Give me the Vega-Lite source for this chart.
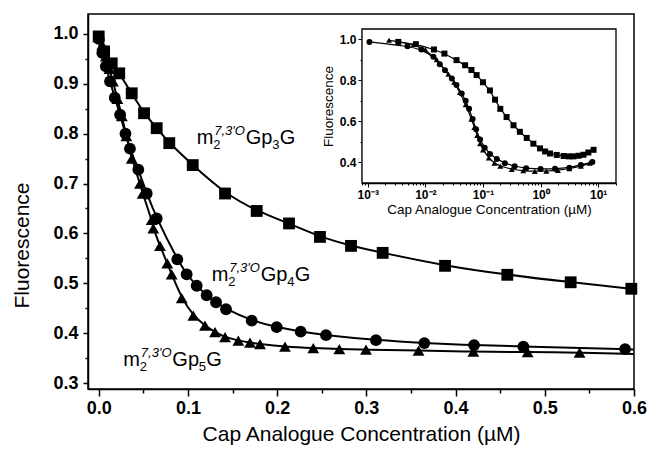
{
  "$schema": "https://vega.github.io/schema/vega-lite/v6.json",
  "width": 546,
  "height": 375,
  "autosize": {"type": "none"},
  "padding": {"left": 88, "top": 14, "right": 16, "bottom": 65},
  "background": "white",
  "config": {
    "font": "Liberation Sans",
    "view": {"stroke": "black", "strokeWidth": 1.5},
    "axis": {"grid": false, "domainColor": "black", "tickColor": "black", "labelColor": "black", "titleColor": "black", "labelFont": "Liberation Sans", "titleFont": "Liberation Sans", "labelOverlap": false, "labelFlush": false, "labelBound": false}
  },
  "datasets": {
    "main": [
      {"s": "sq", "k": "o", "x": 0.0, "y": 0.995},
      {"s": "sq", "k": "o", "x": 0.006, "y": 0.965},
      {"s": "sq", "k": "o", "x": 0.0146, "y": 0.941},
      {"s": "sq", "k": "o", "x": 0.023, "y": 0.921},
      {"s": "sq", "k": "o", "x": 0.037, "y": 0.881},
      {"s": "sq", "k": "o", "x": 0.0508, "y": 0.841},
      {"s": "sq", "k": "o", "x": 0.065, "y": 0.811},
      {"s": "sq", "k": "o", "x": 0.0791, "y": 0.781},
      {"s": "sq", "k": "o", "x": 0.1054, "y": 0.737},
      {"s": "sq", "k": "o", "x": 0.1416, "y": 0.68},
      {"s": "sq", "k": "o", "x": 0.1771, "y": 0.645},
      {"s": "sq", "k": "o", "x": 0.2133, "y": 0.62},
      {"s": "sq", "k": "o", "x": 0.248, "y": 0.593},
      {"s": "sq", "k": "o", "x": 0.2828, "y": 0.575},
      {"s": "sq", "k": "o", "x": 0.3183, "y": 0.561},
      {"s": "sq", "k": "o", "x": 0.3882, "y": 0.535},
      {"s": "sq", "k": "o", "x": 0.458, "y": 0.517},
      {"s": "sq", "k": "o", "x": 0.529, "y": 0.502},
      {"s": "sq", "k": "o", "x": 0.597, "y": 0.489},
      {"s": "sq", "k": "f", "x": 0.6, "y": 0.488},
      {"s": "ci", "k": "o", "x": 0.0, "y": 0.99},
      {"s": "ci", "k": "o", "x": 0.004, "y": 0.962},
      {"s": "ci", "k": "o", "x": 0.008, "y": 0.935},
      {"s": "ci", "k": "o", "x": 0.0127, "y": 0.905},
      {"s": "ci", "k": "o", "x": 0.018, "y": 0.872},
      {"s": "ci", "k": "o", "x": 0.024, "y": 0.838},
      {"s": "ci", "k": "o", "x": 0.03, "y": 0.8},
      {"s": "ci", "k": "o", "x": 0.035, "y": 0.77},
      {"s": "ci", "k": "o", "x": 0.0444, "y": 0.728},
      {"s": "ci", "k": "o", "x": 0.0538, "y": 0.68},
      {"s": "ci", "k": "o", "x": 0.065, "y": 0.63},
      {"s": "ci", "k": "o", "x": 0.0881, "y": 0.548},
      {"s": "ci", "k": "o", "x": 0.0986, "y": 0.518},
      {"s": "ci", "k": "o", "x": 0.1098, "y": 0.495},
      {"s": "ci", "k": "o", "x": 0.121, "y": 0.476},
      {"s": "ci", "k": "o", "x": 0.1315, "y": 0.462},
      {"s": "ci", "k": "o", "x": 0.1427, "y": 0.448},
      {"s": "ci", "k": "o", "x": 0.1715, "y": 0.425},
      {"s": "ci", "k": "o", "x": 0.1995, "y": 0.412},
      {"s": "ci", "k": "o", "x": 0.2264, "y": 0.403},
      {"s": "ci", "k": "o", "x": 0.2548, "y": 0.396},
      {"s": "ci", "k": "o", "x": 0.3108, "y": 0.386},
      {"s": "ci", "k": "o", "x": 0.365, "y": 0.38},
      {"s": "ci", "k": "o", "x": 0.4207, "y": 0.376},
      {"s": "ci", "k": "o", "x": 0.476, "y": 0.373},
      {"s": "ci", "k": "o", "x": 0.59, "y": 0.368},
      {"s": "ci", "k": "f", "x": 0.6, "y": 0.367},
      {"s": "tr", "k": "o", "x": 0.0, "y": 0.995},
      {"s": "tr", "k": "o", "x": 0.004, "y": 0.978},
      {"s": "tr", "k": "o", "x": 0.008, "y": 0.955},
      {"s": "tr", "k": "o", "x": 0.012, "y": 0.93},
      {"s": "tr", "k": "o", "x": 0.016, "y": 0.905},
      {"s": "tr", "k": "o", "x": 0.021, "y": 0.87},
      {"s": "tr", "k": "o", "x": 0.026, "y": 0.835},
      {"s": "tr", "k": "o", "x": 0.031, "y": 0.795},
      {"s": "tr", "k": "o", "x": 0.037, "y": 0.75},
      {"s": "tr", "k": "o", "x": 0.0463, "y": 0.7},
      {"s": "tr", "k": "o", "x": 0.0493, "y": 0.68},
      {"s": "tr", "k": "o", "x": 0.0594, "y": 0.627},
      {"s": "tr", "k": "o", "x": 0.0612, "y": 0.61},
      {"s": "tr", "k": "o", "x": 0.0687, "y": 0.575},
      {"s": "tr", "k": "o", "x": 0.0769, "y": 0.54},
      {"s": "tr", "k": "o", "x": 0.0818, "y": 0.518},
      {"s": "tr", "k": "o", "x": 0.093, "y": 0.47},
      {"s": "tr", "k": "o", "x": 0.106, "y": 0.435},
      {"s": "tr", "k": "o", "x": 0.1191, "y": 0.415},
      {"s": "tr", "k": "o", "x": 0.1304, "y": 0.402},
      {"s": "tr", "k": "o", "x": 0.1416, "y": 0.392},
      {"s": "tr", "k": "o", "x": 0.1565, "y": 0.385},
      {"s": "tr", "k": "o", "x": 0.1696, "y": 0.381},
      {"s": "tr", "k": "o", "x": 0.1808, "y": 0.378},
      {"s": "tr", "k": "o", "x": 0.2088, "y": 0.373},
      {"s": "tr", "k": "o", "x": 0.2405, "y": 0.37},
      {"s": "tr", "k": "o", "x": 0.2697, "y": 0.368},
      {"s": "tr", "k": "o", "x": 0.2996, "y": 0.367},
      {"s": "tr", "k": "o", "x": 0.3585, "y": 0.365},
      {"s": "tr", "k": "o", "x": 0.4199, "y": 0.363},
      {"s": "tr", "k": "o", "x": 0.4808, "y": 0.362},
      {"s": "tr", "k": "o", "x": 0.539, "y": 0.361},
      {"s": "tr", "k": "f", "x": 0.6, "y": 0.358}
    ],
    "labels": [
      {"x": 0.1098, "y": 0.779, "n": "3"},
      {"x": 0.1267, "y": 0.5046, "n": "4"},
      {"x": 0.0276, "y": 0.334, "n": "5"}
    ],
    "inset": [
      {"s": "sq", "x": 0.00339, "y": 0.987},
      {"s": "sq", "x": 0.00684, "y": 0.976},
      {"s": "sq", "x": 0.0141, "y": 0.95},
      {"s": "sq", "x": 0.0214, "y": 0.93},
      {"s": "sq", "x": 0.0347, "y": 0.898},
      {"s": "sq", "x": 0.049, "y": 0.873},
      {"s": "sq", "x": 0.0631, "y": 0.85},
      {"s": "sq", "x": 0.0776, "y": 0.825},
      {"s": "sq", "x": 0.1, "y": 0.79},
      {"s": "sq", "x": 0.132, "y": 0.75},
      {"s": "sq", "x": 0.162, "y": 0.705},
      {"s": "sq", "x": 0.2, "y": 0.66},
      {"s": "sq", "x": 0.257, "y": 0.62},
      {"s": "sq", "x": 0.339, "y": 0.58},
      {"s": "sq", "x": 0.437, "y": 0.548},
      {"s": "sq", "x": 0.575, "y": 0.518},
      {"s": "sq", "x": 0.75, "y": 0.49},
      {"s": "sq", "x": 0.977, "y": 0.467},
      {"s": "sq", "x": 1.2, "y": 0.452},
      {"s": "sq", "x": 1.46, "y": 0.442},
      {"s": "sq", "x": 1.91, "y": 0.435},
      {"s": "sq", "x": 2.51, "y": 0.43},
      {"s": "sq", "x": 3.09, "y": 0.428},
      {"s": "sq", "x": 3.72, "y": 0.428},
      {"s": "sq", "x": 4.57, "y": 0.431},
      {"s": "sq", "x": 5.56, "y": 0.436},
      {"s": "sq", "x": 6.76, "y": 0.447},
      {"s": "sq", "x": 8.32, "y": 0.46},
      {"s": "ci", "x": 0.00107, "y": 0.987},
      {"s": "ci", "x": 0.0049, "y": 0.966},
      {"s": "ci", "x": 0.0085, "y": 0.95},
      {"s": "ci", "x": 0.0138, "y": 0.914},
      {"s": "ci", "x": 0.0178, "y": 0.878},
      {"s": "ci", "x": 0.0219, "y": 0.849},
      {"s": "ci", "x": 0.0288, "y": 0.808},
      {"s": "ci", "x": 0.0347, "y": 0.776},
      {"s": "ci", "x": 0.0427, "y": 0.735},
      {"s": "ci", "x": 0.0501, "y": 0.7},
      {"s": "ci", "x": 0.0575, "y": 0.66},
      {"s": "ci", "x": 0.0661, "y": 0.61},
      {"s": "ci", "x": 0.0759, "y": 0.56},
      {"s": "ci", "x": 0.0891, "y": 0.51},
      {"s": "ci", "x": 0.107, "y": 0.47},
      {"s": "ci", "x": 0.132, "y": 0.44},
      {"s": "ci", "x": 0.174, "y": 0.415},
      {"s": "ci", "x": 0.24, "y": 0.395},
      {"s": "ci", "x": 0.355, "y": 0.38},
      {"s": "ci", "x": 0.562, "y": 0.37},
      {"s": "ci", "x": 1.0, "y": 0.366},
      {"s": "ci", "x": 1.78, "y": 0.367},
      {"s": "ci", "x": 3.16, "y": 0.373},
      {"s": "ci", "x": 5.01, "y": 0.386},
      {"s": "ci", "x": 7.94, "y": 0.4},
      {"s": "tr", "x": 0.00234, "y": 0.995},
      {"s": "tr", "x": 0.0063, "y": 0.975},
      {"s": "tr", "x": 0.01, "y": 0.95},
      {"s": "tr", "x": 0.0158, "y": 0.9},
      {"s": "tr", "x": 0.0251, "y": 0.83},
      {"s": "tr", "x": 0.0316, "y": 0.79},
      {"s": "tr", "x": 0.0398, "y": 0.74},
      {"s": "tr", "x": 0.0501, "y": 0.68},
      {"s": "tr", "x": 0.0631, "y": 0.61},
      {"s": "tr", "x": 0.0708, "y": 0.57},
      {"s": "tr", "x": 0.0794, "y": 0.53},
      {"s": "tr", "x": 0.0891, "y": 0.49},
      {"s": "tr", "x": 0.1, "y": 0.46},
      {"s": "tr", "x": 0.126, "y": 0.42},
      {"s": "tr", "x": 0.158, "y": 0.395},
      {"s": "tr", "x": 0.2, "y": 0.38},
      {"s": "tr", "x": 0.316, "y": 0.365},
      {"s": "tr", "x": 0.501, "y": 0.358},
      {"s": "tr", "x": 0.794, "y": 0.355},
      {"s": "tr", "x": 1.26, "y": 0.356},
      {"s": "tr", "x": 2.0, "y": 0.36},
      {"s": "tr", "x": 3.16, "y": 0.368},
      {"s": "tr", "x": 5.01, "y": 0.38},
      {"s": "tr", "x": 7.08, "y": 0.395}
    ],
    "frame": [
      {"x": 0.000794, "x2": 20.4, "y": 0.298, "y2": 1.05}
    ]
  },
  "layer": [
    {
      "encoding": {
        "x": {
          "field": "x", "type": "quantitative",
          "scale": {"domain": [-0.012, 0.6], "nice": false, "zero": false},
          "axis": {
            "title": "Cap Analogue Concentration (µM)",
            "orient": "bottom",
            "values": [0, 0.05, 0.1, 0.15, 0.2, 0.25, 0.3, 0.35, 0.4, 0.45, 0.5, 0.55, 0.6],
            "labelExpr": "abs(datum.value*10 - round(datum.value*10)) < 0.01 ? format(datum.value, '.1f') : ''",
            "labelFontSize": 18, "labelFontWeight": "bold", "labelPadding": 3,
            "tickSize": {"condition": {"test": "abs(datum.value*10 - round(datum.value*10)) < 0.01", "value": 7}, "value": 4},
            "tickWidth": 1.5, "domainWidth": 1.5,
            "titleFontSize": 21, "titleFontWeight": "normal", "titlePadding": 6
          }
        },
        "y": {
          "field": "y", "type": "quantitative",
          "scale": {"domain": [0.288, 1.04], "nice": false, "zero": false},
          "axis": {
            "title": "Fluorescence",
            "orient": "left",
            "values": [0.3, 0.35, 0.4, 0.45, 0.5, 0.55, 0.6, 0.65, 0.7, 0.75, 0.8, 0.85, 0.9, 0.95, 1.0],
            "labelExpr": "abs(datum.value*10 - round(datum.value*10)) < 0.01 ? format(datum.value, '.1f') : ''",
            "labelFontSize": 18, "labelFontWeight": "bold", "labelPadding": 5,
            "tickSize": {"condition": {"test": "abs(datum.value*10 - round(datum.value*10)) < 0.01", "value": 5}, "value": 3},
            "tickWidth": 1.5, "domainWidth": 1.5,
            "titleFontSize": 21, "titleFontWeight": "normal",
            "titleX": -66, "titleY": 231, "titleBaseline": "middle", "titleAngle": -90
          }
        }
      },
      "layer": [
        {
          "data": {"name": "main"},
          "mark": {"type": "line", "color": "black", "strokeWidth": 2, "interpolate": "basis"},
          "encoding": {"detail": {"field": "s"}}
        },
        {
          "data": {"name": "main"},
          "transform": [{"filter": "datum.k == 'o'"}],
          "mark": {"type": "point", "filled": true, "color": "black", "opacity": 1, "size": 140},
          "encoding": {
            "shape": {"field": "s", "type": "nominal", "scale": {"domain": ["sq", "ci", "tr"], "range": ["square", "circle", "triangle-up"]}, "legend": null}
          }
        },
        {"data": {"name": "labels"}, "mark": {"type": "text", "text": "m", "fontSize": 20, "align": "left", "baseline": "alphabetic", "color": "black"}},
        {"data": {"name": "labels"}, "mark": {"type": "text", "text": "2", "fontSize": 13, "align": "left", "baseline": "alphabetic", "dx": 16.5, "dy": 5, "color": "black"}},
        {"data": {"name": "labels"}, "mark": {"type": "text", "text": "7,3'O", "fontSize": 13, "fontStyle": "italic", "align": "left", "baseline": "alphabetic", "dx": 17.5, "dy": -9, "color": "black"}},
        {"data": {"name": "labels"}, "mark": {"type": "text", "text": "Gp", "fontSize": 20, "align": "left", "baseline": "alphabetic", "dx": 49, "color": "black"}},
        {"data": {"name": "labels"}, "mark": {"type": "text", "fontSize": 13, "align": "left", "baseline": "alphabetic", "dx": 75.5, "dy": 5, "color": "black"}, "encoding": {"text": {"field": "n"}}},
        {"data": {"name": "labels"}, "mark": {"type": "text", "text": "G", "fontSize": 20, "align": "left", "baseline": "alphabetic", "dx": 83, "color": "black"}}
      ]
    },
    {
      "encoding": {
        "x": {
          "field": "x", "type": "quantitative",
          "scale": {"type": "log", "domain": [0.000794, 20.4], "range": [274, 528], "nice": false},
          "axis": {
            "title": "Cap Analogue Concentration (µM)",
            "orient": "bottom", "offset": -206,
            "values": [0.0008, 0.0009, 0.001, 0.002, 0.003, 0.004, 0.005, 0.006, 0.007, 0.008, 0.009, 0.01, 0.02, 0.03, 0.04, 0.05, 0.06, 0.07, 0.08, 0.09, 0.1, 0.2, 0.3, 0.4, 0.5, 0.6, 0.7, 0.8, 0.9, 1, 2, 3, 4, 5, 6, 7, 8, 9, 10, 20],
            "labelExpr": "abs(log(datum.value)/LN10 - round(log(datum.value)/LN10)) < 0.01 ? ['10⁻³','10⁻²','10⁻¹','10⁰','10¹'][round(log(datum.value)/LN10)+3] : ''",
            "labelFontSize": 12, "labelFontWeight": "bold", "labelPadding": 2,
            "tickSize": {"condition": {"test": "abs(log(datum.value)/LN10 - round(log(datum.value)/LN10)) < 0.01", "value": 4}, "value": 2},
            "tickWidth": 1, "domainWidth": 1.5,
            "titleFontSize": 13.5, "titleFontWeight": "normal", "titlePadding": 2
          }
        },
        "y": {
          "field": "y", "type": "quantitative",
          "scale": {"domain": [0.298, 1.05], "range": [169, 15], "nice": false, "zero": false},
          "axis": {
            "title": "Fluorescence",
            "orient": "left", "offset": -274,
            "values": [0.4, 0.5, 0.6, 0.7, 0.8, 0.9, 1.0],
            "labelExpr": "abs(datum.value*5 - round(datum.value*5)) < 0.01 ? format(datum.value, '.1f') : ''",
            "labelFontSize": 12, "labelFontWeight": "bold", "labelPadding": 2,
            "tickSize": {"condition": {"test": "abs(datum.value*5 - round(datum.value*5)) < 0.01", "value": 4}, "value": 2},
            "tickWidth": 1, "domainWidth": 1.5,
            "titleFontSize": 13.5, "titleFontWeight": "normal", "titlePadding": 4
          }
        }
      },
      "layer": [
        {
          "data": {"name": "frame"},
          "mark": {"type": "rect", "fill": "white", "stroke": "black", "strokeWidth": 1.3},
          "encoding": {"x2": {"field": "x2"}, "y2": {"field": "y2"}}
        },
        {
          "data": {"name": "inset"},
          "mark": {"type": "line", "color": "black", "strokeWidth": 1.2, "interpolate": "basis"},
          "encoding": {"detail": {"field": "s"}}
        },
        {
          "data": {"name": "inset"},
          "mark": {"type": "point", "filled": true, "color": "black", "opacity": 1, "size": 36},
          "encoding": {
            "shape": {"field": "s", "type": "nominal", "scale": {"domain": ["sq", "ci", "tr"], "range": ["square", "circle", "triangle-up"]}, "legend": null}
          }
        }
      ]
    }
  ],
  "resolve": {"scale": {"x": "independent", "y": "independent"}}
}
